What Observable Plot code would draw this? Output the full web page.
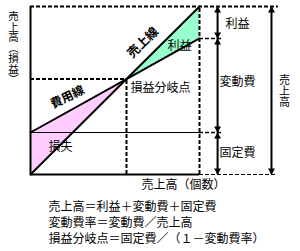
<!DOCTYPE html>
<html>
<head>
<meta charset="utf-8">
<script src="https://cdn.jsdelivr.net/npm/d3@7"></script>
<script src="https://cdn.jsdelivr.net/npm/@observablehq/plot@0.6"></script>
<style>
  html, body { margin: 0; padding: 0; background: #fff; }
</style>
</head>
<body>
<div id="chart"></div>
<script>
// ---- data ----
const qty   = [0, 56.8, 100];     // 売上高（個数）: start, break-even, end
const sales = [0, 56.8, 100];     // 売上線
const cost  = [25, 56.8, 81];     // 費用線 (固定費 + 変動費)
const fixedCost = 25;             // 固定費

const yLabel = "売上高（損益）";
const xLabel = "売上高（個数）";
const lineLabels = ["売上線", "費用線"];
const areaLabels = ["損失", "利益"];
const bepLabel = "損益分岐点";
const sideLabels = ["利益", "変動費", "固定費"];
const totalLabel = "売上高";
const formulas = [
  "売上高＝利益＋変動費＋固定費",
  "変動費率＝変動費／売上高",
  "損益分岐点＝固定費／（１－変動費率）"
];

// ---- derived tables ----
const rows = qty.map((q, i) => ({q, s: sales[i], c: cost[i]}));
const loss = rows.slice(0, 2);
const profit = rows.slice(1);
const bep = rows[1];
const endRow = rows[2];
const salesTop = endRow.s, costEnd = endRow.c;

const ax1 = 110.7, ax2 = 142.6;   // arrow columns
const segs = [[salesTop, costEnd], [costEnd, fixedCost], [fixedCost, 0]];
const heads = [];
segs.forEach(([a, b]) => { heads.push({y: a, up: true}); heads.push({y: b, up: false}); });
const heads2 = [{y: salesTop, up: true}, {y: 0, up: false}];
const dash = "4,2";

const chart = Plot.plot({
  width: 300,
  height: 251,
  margin: 0,
  x: {domain: [0, 100], range: [30, 199], axis: null},
  y: {domain: [0, 100], range: [174, 6], axis: null},
  style: {fontFamily: "'Noto Sans CJK JP', sans-serif", fontSize: "12px", background: "#fff", overflow: "visible"},
  marks: [
    Plot.areaY(loss, {x: "q", y1: "s", y2: "c", fill: "#ffccff"}),
    Plot.areaY(profit, {x: "q", y1: "s", y2: "c", fill: "#99ffcc"}),
    // frame / guides
    Plot.ruleY([salesTop], {x1: 0, x2: 146.7, stroke: "#000", strokeWidth: 2, strokeDasharray: dash}),
    Plot.ruleX([0], {y1: 0, y2: salesTop, stroke: "#000", strokeWidth: 2}),
    Plot.ruleY([0], {x1: 0, x2: endRow.q, stroke: "#000", strokeWidth: 2}),
    Plot.ruleY([0], {x1: endRow.q, x2: 145, stroke: "#000", strokeWidth: 1, strokeDasharray: dash}),
    Plot.ruleY([fixedCost], {x1: 0, x2: endRow.q, stroke: "#000", strokeWidth: 1}),
    Plot.ruleY([fixedCost, costEnd], {x1: endRow.q, x2: 113.6, stroke: "#000", strokeWidth: 1.5, strokeDasharray: dash}),
    Plot.ruleY([bep.s], {x1: 0, x2: bep.q, stroke: "#000", strokeWidth: 2, strokeDasharray: dash}),
    Plot.ruleX([bep.q], {y1: 0, y2: bep.s, stroke: "#000", strokeWidth: 2, strokeDasharray: dash}),
    Plot.ruleX([endRow.q], {y1: 0, y2: salesTop, stroke: "#000", strokeWidth: 2, strokeDasharray: dash}),
    // sales and cost lines
    Plot.line(rows, {x: "q", y: "s", stroke: "#000", strokeWidth: 2}),
    Plot.line(rows, {x: "q", y: "c", stroke: "#000", strokeWidth: 2}),
    // arrows
    Plot.ruleX(segs, {x: () => ax1, y1: d => d[0], y2: d => d[1], stroke: "#000", strokeWidth: 2}),
    Plot.ruleX([[salesTop, 0]], {x: () => ax2, y1: d => d[0], y2: d => d[1], stroke: "#000", strokeWidth: 2}),
    Plot.dot(heads.filter(d => d.up), {x: () => ax1, y: "y", symbol: "triangle", r: 2.6, fill: "#000", dy: 4}),
    Plot.dot(heads.filter(d => !d.up), {x: () => ax1, y: "y", symbol: "triangle", r: 2.6, fill: "#000", rotate: 180, dy: -4}),
    Plot.dot(heads2.filter(d => d.up), {x: () => ax2, y: "y", symbol: "triangle", r: 2.6, fill: "#000", dy: 4}),
    Plot.dot(heads2.filter(d => !d.up), {x: () => ax2, y: "y", symbol: "triangle", r: 2.6, fill: "#000", rotate: 180, dy: -4}),
    // labels on lines
    Plot.text([lineLabels[0]], {x: 66.5, y: 78.5, text: d => d, rotate: -44, fontWeight: "bold", fontSize: 12.5}),
    Plot.text([lineLabels[1]], {x: 21.9, y: 46.0, text: d => d, rotate: -26, fontWeight: "bold", fontSize: 12}),
    Plot.text([areaLabels[0]], {x: 17.75, y: 16.1, text: d => d, fontSize: 12}),
    Plot.text([areaLabels[1]], {x: 88.2, y: 76.2, text: d => d, fontSize: 12}),
    Plot.text([bepLabel], {x: 59.2, y: 51.2, text: d => d, textAnchor: "start", fontSize: 12}),
    Plot.text(sideLabels, {x: 122.5, y: (d, i) => [89.3, 54.8, 12.5][i], text: d => d, fontSize: 12}),
    // vertical labels (turned to vertical writing below)
    Plot.text([totalLabel], {x: 150.3, y: 51.8, text: d => d, fontSize: 11}),
    Plot.text([yLabel], {x: -10.1, y: 77.4, text: d => d, fontSize: 10.5}),
    Plot.text([xLabel], {x: 90.5, y: -6.5, text: d => d, fontSize: 12}),
    Plot.text(formulas, {x: 10.65, y: (d, i) => -19.6 - i * 9.5, text: d => d, textAnchor: "start", fontSize: 12})
  ]
});
// vertical writing for the two stacked labels
chart.querySelectorAll("text").forEach(t => {
  if (t.textContent === totalLabel || t.textContent === yLabel) {
    t.style.writingMode = "vertical-rl";
    t.removeAttribute("dy");
  }
});
document.getElementById("chart").appendChild(chart);
</script>
</body>
</html>
